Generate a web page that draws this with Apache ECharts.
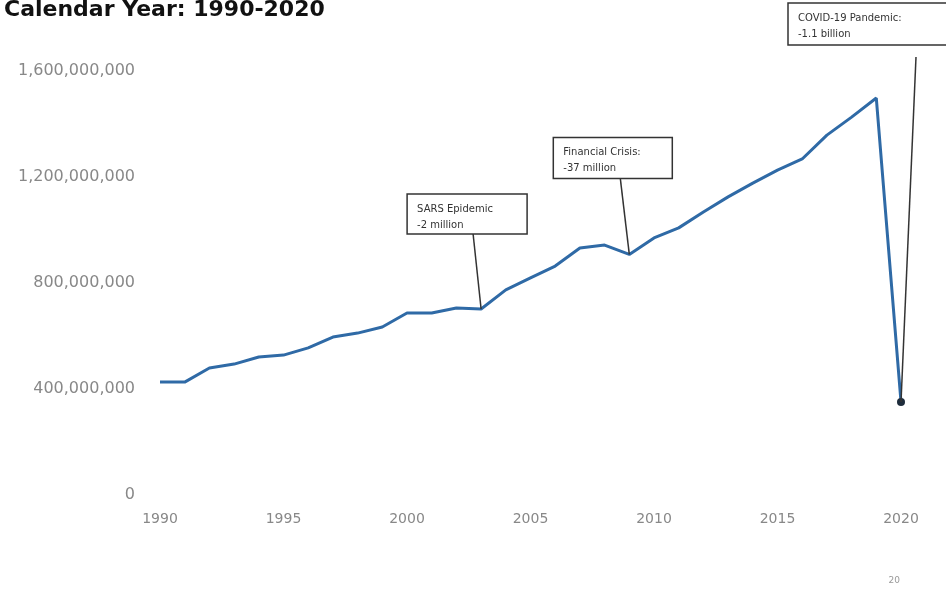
<!DOCTYPE html>
<html>
<head>
<meta charset="utf-8">
<script src="https://cdn.jsdelivr.net/npm/echarts@6/dist/echarts.min.js"></script>
<style>
html,body{margin:0;padding:0;background:#fff;}
#chart{width:946px;height:595px;}
</style>
</head>
<body>
<div id="chart"></div>
<script>
const years = ['1990','1991','1992','1993','1994','1995','1996','1997','1998','1999','2000','2001','2002','2003','2004','2005','2006','2007','2008','2009','2010','2011','2012','2013','2014','2015','2016','2017','2018','2019','2020'];
const arrivals = [426e6,426e6,479e6,494e6,521e6,528e6,555e6,596e6,611e6,634e6,687e6,687e6,706e6,702e6,774e6,819e6,864e6,932e6,943e6,908e6,970e6,1008e6,1068e6,1125e6,1177e6,1226e6,1268e6,1358e6,1426e6,1498e6,351e6];
const xTickLabels = ['1990','1995','2000','2005','2010','2015','2020'];
const yTicks = [0, 400e6, 800e6, 1200e6, 1600e6];
const annotations = [
  {year:'2003', lines:['SARS Epidemic','-2 million']},
  {year:'2009', lines:['Financial Crisis:','-37 million']},
  {year:'2020', lines:['COVID-19 Pandemic:','-1.1 billion']}
];
const titleText = 'Calendar Year: 1990-2020';

const chart = echarts.init(document.getElementById('chart'), null, {renderer:'canvas'});
const seriesData = arrivals.map((v,i)=> i===arrivals.length-1 ? {value:v, symbol:'circle', symbolSize:8, itemStyle:{color:'#1e2c3c'}} : v);

chart.setOption({
  animation:false,
  backgroundColor:'#fff',
  title:{text:titleText,left:-1,top:-6,textStyle:{fontFamily:'DejaVu Sans',fontWeight:'bold',fontSize:22,color:'#111'}},
  grid:{left:160,right:45,top:71,bottom:100,containLabel:false},
  xAxis:{type:'category',data:years,boundaryGap:false,
    axisLine:{show:false},axisTick:{show:false},splitLine:{show:false},
    axisLabel:{interval:(i,v)=>xTickLabels.includes(v),fontFamily:'DejaVu Sans',fontSize:14,color:'#888',margin:17}},
  yAxis:{type:'value',min:yTicks[0],max:yTicks[yTicks.length-1],interval:yTicks[1]-yTicks[0],
    axisLine:{show:false},axisTick:{show:false},splitLine:{show:false},
    axisLabel:{fontFamily:'DejaVu Sans',fontSize:16,color:'#888',margin:25,
      formatter:v=>v.toLocaleString('en-US')}},
  series:[{type:'line',data:seriesData,showSymbol:true,symbol:'none',
    lineStyle:{color:'#2f6aa6',width:3},itemStyle:{color:'#2f6aa6'}}]
});

// annotation layout offsets relative to the data point (px)
const layouts = [
  {bx:-74,by:-115,bw:120,bh:40,lx:-8,ly:-75},
  {bx:-76,by:-117,bw:119,bh:41,lx:-9,ly:-76},
  {bx:-113,by:-399,bw:165,bh:42,lx:15,ly:-345}
];
const graphics = [];
annotations.forEach((a,k)=>{
  const idx = years.indexOf(a.year);
  const p = chart.convertToPixel({seriesIndex:0},[idx, arrivals[idx]]);
  const L = layouts[k];
  graphics.push({type:'line',shape:{x1:p[0]+L.lx,y1:p[1]+L.ly,x2:p[0],y2:p[1]},style:{stroke:'#333',lineWidth:1.5},z:5});
  graphics.push({type:'rect',shape:{x:p[0]+L.bx,y:p[1]+L.by,width:L.bw,height:L.bh},style:{fill:'#fff',stroke:'#333',lineWidth:1.5},z:6});
  graphics.push({type:'text',x:p[0]+L.bx+10,y:p[1]+L.by+7,style:{text:a.lines.join('\n'),font:'10px "DejaVu Sans"',fill:'#333',lineHeight:16},z:7});
});
graphics.push({type:'text',right:46,bottom:10,style:{text:'20',font:'9px "DejaVu Sans"',fill:'#999'}});
chart.setOption({graphic:graphics});
</script>
</body>
</html>
